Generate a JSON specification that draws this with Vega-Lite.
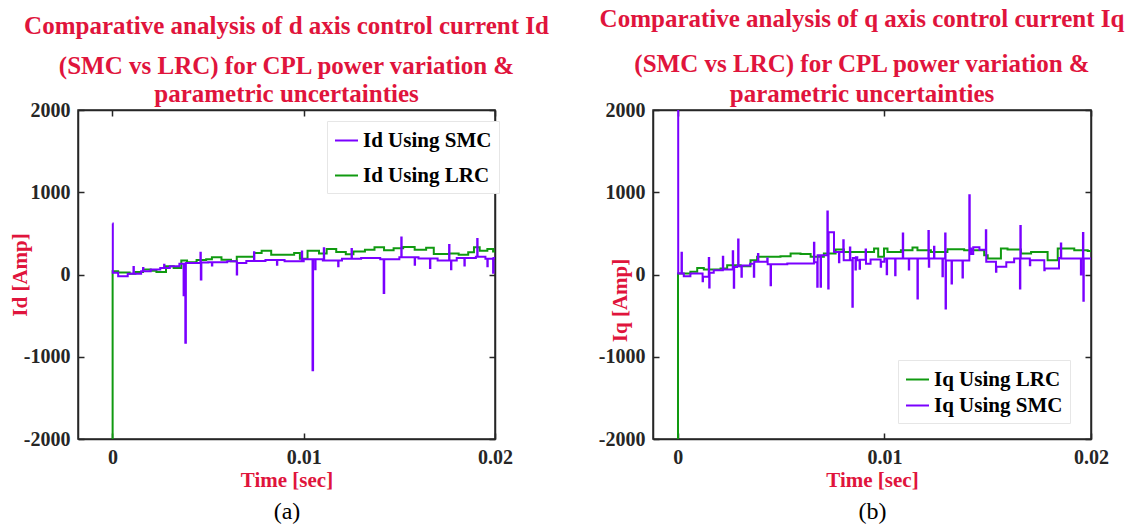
{
  "$schema": "https://vega.github.io/schema/vega-lite/v6.json",
  "background": "white",
  "padding": {"left": 8, "top": 6, "right": 5, "bottom": 4},
  "datasets": {
    "id": [
      {"t": 0, "v": -2000, "s": "Id Using LRC"},
      {"t": 0.00001, "v": 40, "s": "Id Using LRC"},
      {"t": 0.0003, "v": 25, "s": "Id Using LRC"},
      {"t": 0.0009, "v": 10, "s": "Id Using LRC"},
      {"t": 0.0012, "v": 30, "s": "Id Using LRC"},
      {"t": 0.0016, "v": 60, "s": "Id Using LRC"},
      {"t": 0.002, "v": 45, "s": "Id Using LRC"},
      {"t": 0.0023, "v": 30, "s": "Id Using LRC"},
      {"t": 0.0028, "v": 100, "s": "Id Using LRC"},
      {"t": 0.0032, "v": 80, "s": "Id Using LRC"},
      {"t": 0.0036, "v": 170, "s": "Id Using LRC"},
      {"t": 0.0039, "v": 150, "s": "Id Using LRC"},
      {"t": 0.0044, "v": 175, "s": "Id Using LRC"},
      {"t": 0.0049, "v": 185, "s": "Id Using LRC"},
      {"t": 0.0052, "v": 210, "s": "Id Using LRC"},
      {"t": 0.0057, "v": 180, "s": "Id Using LRC"},
      {"t": 0.0062, "v": 160, "s": "Id Using LRC"},
      {"t": 0.0065, "v": 215, "s": "Id Using LRC"},
      {"t": 0.0074, "v": 260, "s": "Id Using LRC"},
      {"t": 0.0078, "v": 290, "s": "Id Using LRC"},
      {"t": 0.0083, "v": 240, "s": "Id Using LRC"},
      {"t": 0.0095, "v": 260, "s": "Id Using LRC"},
      {"t": 0.0098, "v": 190, "s": "Id Using LRC"},
      {"t": 0.0102, "v": 290, "s": "Id Using LRC"},
      {"t": 0.0108, "v": 255, "s": "Id Using LRC"},
      {"t": 0.0112, "v": 310, "s": "Id Using LRC"},
      {"t": 0.0117, "v": 275, "s": "Id Using LRC"},
      {"t": 0.0122, "v": 245, "s": "Id Using LRC"},
      {"t": 0.0126, "v": 280, "s": "Id Using LRC"},
      {"t": 0.0132, "v": 300, "s": "Id Using LRC"},
      {"t": 0.0137, "v": 330, "s": "Id Using LRC"},
      {"t": 0.0142, "v": 295, "s": "Id Using LRC"},
      {"t": 0.0147, "v": 320, "s": "Id Using LRC"},
      {"t": 0.0152, "v": 335, "s": "Id Using LRC"},
      {"t": 0.0158, "v": 300, "s": "Id Using LRC"},
      {"t": 0.0164, "v": 325, "s": "Id Using LRC"},
      {"t": 0.0168, "v": 250, "s": "Id Using LRC"},
      {"t": 0.0176, "v": 255, "s": "Id Using LRC"},
      {"t": 0.0181, "v": 240, "s": "Id Using LRC"},
      {"t": 0.0186, "v": 270, "s": "Id Using LRC"},
      {"t": 0.0189, "v": 330, "s": "Id Using LRC"},
      {"t": 0.0192, "v": 290, "s": "Id Using LRC"},
      {"t": 0.0196, "v": 310, "s": "Id Using LRC"},
      {"t": 0.0199, "v": 280, "s": "Id Using LRC"},
      {"t": 0.02, "v": 280, "s": "Id Using LRC"},
      {"t": 0, "v": 620, "s": "Id Using SMC"},
      {"t": 0.00002, "v": 20, "s": "Id Using SMC"},
      {"t": 0.0003, "v": -20, "s": "Id Using SMC"},
      {"t": 0.0008, "v": 10, "s": "Id Using SMC"},
      {"t": 0.0011, "v": 90, "s": "Id Using SMC"},
      {"t": 0.00112, "v": 10, "s": "Id Using SMC"},
      {"t": 0.0015, "v": 40, "s": "Id Using SMC"},
      {"t": 0.0016, "v": 80, "s": "Id Using SMC"},
      {"t": 0.00162, "v": 40, "s": "Id Using SMC"},
      {"t": 0.002, "v": 60, "s": "Id Using SMC"},
      {"t": 0.0025, "v": 80, "s": "Id Using SMC"},
      {"t": 0.0027, "v": 120, "s": "Id Using SMC"},
      {"t": 0.00272, "v": 80, "s": "Id Using SMC"},
      {"t": 0.003, "v": 100, "s": "Id Using SMC"},
      {"t": 0.0035, "v": 130, "s": "Id Using SMC"},
      {"t": 0.00372, "v": -253, "s": "Id Using SMC"},
      {"t": 0.00375, "v": 130, "s": "Id Using SMC"},
      {"t": 0.00381, "v": -829, "s": "Id Using SMC"},
      {"t": 0.00384, "v": 140, "s": "Id Using SMC"},
      {"t": 0.0046, "v": 264, "s": "Id Using SMC"},
      {"t": 0.00462, "v": -60, "s": "Id Using SMC"},
      {"t": 0.00465, "v": 145, "s": "Id Using SMC"},
      {"t": 0.005, "v": 150, "s": "Id Using SMC"},
      {"t": 0.0052, "v": 110, "s": "Id Using SMC"},
      {"t": 0.00522, "v": 150, "s": "Id Using SMC"},
      {"t": 0.006, "v": 160, "s": "Id Using SMC"},
      {"t": 0.0065, "v": 0, "s": "Id Using SMC"},
      {"t": 0.00652, "v": 140, "s": "Id Using SMC"},
      {"t": 0.007, "v": 165, "s": "Id Using SMC"},
      {"t": 0.0074, "v": 270, "s": "Id Using SMC"},
      {"t": 0.00742, "v": 165, "s": "Id Using SMC"},
      {"t": 0.008, "v": 175, "s": "Id Using SMC"},
      {"t": 0.0086, "v": 120, "s": "Id Using SMC"},
      {"t": 0.00862, "v": 175, "s": "Id Using SMC"},
      {"t": 0.009, "v": 160, "s": "Id Using SMC"},
      {"t": 0.0099, "v": 280, "s": "Id Using SMC"},
      {"t": 0.00992, "v": 160, "s": "Id Using SMC"},
      {"t": 0.01, "v": 185, "s": "Id Using SMC"},
      {"t": 0.01046, "v": -1163, "s": "Id Using SMC"},
      {"t": 0.01049, "v": 185, "s": "Id Using SMC"},
      {"t": 0.0106, "v": 65, "s": "Id Using SMC"},
      {"t": 0.01062, "v": 185, "s": "Id Using SMC"},
      {"t": 0.011, "v": 170, "s": "Id Using SMC"},
      {"t": 0.01105, "v": 320, "s": "Id Using SMC"},
      {"t": 0.01107, "v": 170, "s": "Id Using SMC"},
      {"t": 0.0118, "v": 100, "s": "Id Using SMC"},
      {"t": 0.01182, "v": 170, "s": "Id Using SMC"},
      {"t": 0.012, "v": 190, "s": "Id Using SMC"},
      {"t": 0.0125, "v": 310, "s": "Id Using SMC"},
      {"t": 0.01252, "v": 190, "s": "Id Using SMC"},
      {"t": 0.013, "v": 200, "s": "Id Using SMC"},
      {"t": 0.014, "v": 185, "s": "Id Using SMC"},
      {"t": 0.01418, "v": -225, "s": "Id Using SMC"},
      {"t": 0.01421, "v": 185, "s": "Id Using SMC"},
      {"t": 0.015, "v": 210, "s": "Id Using SMC"},
      {"t": 0.0151, "v": 450, "s": "Id Using SMC"},
      {"t": 0.01512, "v": 210, "s": "Id Using SMC"},
      {"t": 0.0158, "v": 120, "s": "Id Using SMC"},
      {"t": 0.01582, "v": 210, "s": "Id Using SMC"},
      {"t": 0.016, "v": 195, "s": "Id Using SMC"},
      {"t": 0.0166, "v": 80, "s": "Id Using SMC"},
      {"t": 0.01662, "v": 195, "s": "Id Using SMC"},
      {"t": 0.017, "v": 170, "s": "Id Using SMC"},
      {"t": 0.0176, "v": 360, "s": "Id Using SMC"},
      {"t": 0.01762, "v": 170, "s": "Id Using SMC"},
      {"t": 0.0177, "v": 65, "s": "Id Using SMC"},
      {"t": 0.01772, "v": 170, "s": "Id Using SMC"},
      {"t": 0.018, "v": 200, "s": "Id Using SMC"},
      {"t": 0.0184, "v": 110, "s": "Id Using SMC"},
      {"t": 0.01842, "v": 200, "s": "Id Using SMC"},
      {"t": 0.019, "v": 215, "s": "Id Using SMC"},
      {"t": 0.01907, "v": 432, "s": "Id Using SMC"},
      {"t": 0.01909, "v": 215, "s": "Id Using SMC"},
      {"t": 0.0195, "v": 190, "s": "Id Using SMC"},
      {"t": 0.0196, "v": 100, "s": "Id Using SMC"},
      {"t": 0.01962, "v": 190, "s": "Id Using SMC"},
      {"t": 0.0199, "v": 20, "s": "Id Using SMC"},
      {"t": 0.01992, "v": 200, "s": "Id Using SMC"},
      {"t": 0.02, "v": 200, "s": "Id Using SMC"}
    ],
    "iq": [
      {"t": 0, "v": -2000, "s": "Iq Using LRC"},
      {"t": 0.00001, "v": 12, "s": "Iq Using LRC"},
      {"t": 0.00061, "v": 32, "s": "Iq Using LRC"},
      {"t": 0.00094, "v": 80, "s": "Iq Using LRC"},
      {"t": 0.00126, "v": 60, "s": "Iq Using LRC"},
      {"t": 0.00207, "v": 72, "s": "Iq Using LRC"},
      {"t": 0.00239, "v": 113, "s": "Iq Using LRC"},
      {"t": 0.00304, "v": 100, "s": "Iq Using LRC"},
      {"t": 0.00352, "v": 174, "s": "Iq Using LRC"},
      {"t": 0.00384, "v": 215, "s": "Iq Using LRC"},
      {"t": 0.00497, "v": 223, "s": "Iq Using LRC"},
      {"t": 0.00546, "v": 255, "s": "Iq Using LRC"},
      {"t": 0.00594, "v": 250, "s": "Iq Using LRC"},
      {"t": 0.00643, "v": 215, "s": "Iq Using LRC"},
      {"t": 0.00707, "v": 255, "s": "Iq Using LRC"},
      {"t": 0.00764, "v": 304, "s": "Iq Using LRC"},
      {"t": 0.00804, "v": 275, "s": "Iq Using LRC"},
      {"t": 0.0095, "v": 316, "s": "Iq Using LRC"},
      {"t": 0.0097, "v": 215, "s": "Iq Using LRC"},
      {"t": 0.00998, "v": 316, "s": "Iq Using LRC"},
      {"t": 0.01015, "v": 275, "s": "Iq Using LRC"},
      {"t": 0.0108, "v": 296, "s": "Iq Using LRC"},
      {"t": 0.01136, "v": 328, "s": "Iq Using LRC"},
      {"t": 0.0116, "v": 296, "s": "Iq Using LRC"},
      {"t": 0.01225, "v": 275, "s": "Iq Using LRC"},
      {"t": 0.01305, "v": 308, "s": "Iq Using LRC"},
      {"t": 0.01386, "v": 296, "s": "Iq Using LRC"},
      {"t": 0.01483, "v": 235, "s": "Iq Using LRC"},
      {"t": 0.015, "v": 194, "s": "Iq Using LRC"},
      {"t": 0.01564, "v": 316, "s": "Iq Using LRC"},
      {"t": 0.01596, "v": 304, "s": "Iq Using LRC"},
      {"t": 0.01661, "v": 255, "s": "Iq Using LRC"},
      {"t": 0.0171, "v": 275, "s": "Iq Using LRC"},
      {"t": 0.0179, "v": 174, "s": "Iq Using LRC"},
      {"t": 0.01839, "v": 316, "s": "Iq Using LRC"},
      {"t": 0.01919, "v": 296, "s": "Iq Using LRC"},
      {"t": 0.01984, "v": 285, "s": "Iq Using LRC"},
      {"t": 0.02, "v": 285, "s": "Iq Using LRC"},
      {"t": 0, "v": 2000, "s": "Iq Using SMC"},
      {"t": 0.00002, "v": 12, "s": "Iq Using SMC"},
      {"t": 0.00018, "v": 263, "s": "Iq Using SMC"},
      {"t": 0.0002, "v": 12, "s": "Iq Using SMC"},
      {"t": 0.00029, "v": -20, "s": "Iq Using SMC"},
      {"t": 0.00061, "v": 12, "s": "Iq Using SMC"},
      {"t": 0.0012, "v": -81, "s": "Iq Using SMC"},
      {"t": 0.00122, "v": -28, "s": "Iq Using SMC"},
      {"t": 0.0015, "v": 202, "s": "Iq Using SMC"},
      {"t": 0.00152, "v": -158, "s": "Iq Using SMC"},
      {"t": 0.00154, "v": 20, "s": "Iq Using SMC"},
      {"t": 0.00174, "v": 53, "s": "Iq Using SMC"},
      {"t": 0.00218, "v": 215, "s": "Iq Using SMC"},
      {"t": 0.0022, "v": 60, "s": "Iq Using SMC"},
      {"t": 0.00266, "v": 283, "s": "Iq Using SMC"},
      {"t": 0.00268, "v": 80, "s": "Iq Using SMC"},
      {"t": 0.00271, "v": -162, "s": "Iq Using SMC"},
      {"t": 0.00273, "v": 90, "s": "Iq Using SMC"},
      {"t": 0.00287, "v": 100, "s": "Iq Using SMC"},
      {"t": 0.00292, "v": 425, "s": "Iq Using SMC"},
      {"t": 0.00294, "v": 100, "s": "Iq Using SMC"},
      {"t": 0.00308, "v": -28, "s": "Iq Using SMC"},
      {"t": 0.0031, "v": 110, "s": "Iq Using SMC"},
      {"t": 0.0035, "v": 130, "s": "Iq Using SMC"},
      {"t": 0.00368, "v": -28, "s": "Iq Using SMC"},
      {"t": 0.0037, "v": 154, "s": "Iq Using SMC"},
      {"t": 0.00388, "v": 250, "s": "Iq Using SMC"},
      {"t": 0.0039, "v": 154, "s": "Iq Using SMC"},
      {"t": 0.00433, "v": 194, "s": "Iq Using SMC"},
      {"t": 0.00435, "v": 125, "s": "Iq Using SMC"},
      {"t": 0.00449, "v": -130, "s": "Iq Using SMC"},
      {"t": 0.00451, "v": 125, "s": "Iq Using SMC"},
      {"t": 0.0053, "v": 134, "s": "Iq Using SMC"},
      {"t": 0.0061, "v": 134, "s": "Iq Using SMC"},
      {"t": 0.00659, "v": 385, "s": "Iq Using SMC"},
      {"t": 0.00661, "v": 150, "s": "Iq Using SMC"},
      {"t": 0.00675, "v": -150, "s": "Iq Using SMC"},
      {"t": 0.00677, "v": 235, "s": "Iq Using SMC"},
      {"t": 0.00691, "v": -150, "s": "Iq Using SMC"},
      {"t": 0.00693, "v": 235, "s": "Iq Using SMC"},
      {"t": 0.00724, "v": 765, "s": "Iq Using SMC"},
      {"t": 0.00726, "v": 235, "s": "Iq Using SMC"},
      {"t": 0.00728, "v": -170, "s": "Iq Using SMC"},
      {"t": 0.0073, "v": 514, "s": "Iq Using SMC"},
      {"t": 0.00756, "v": 275, "s": "Iq Using SMC"},
      {"t": 0.0078, "v": 150, "s": "Iq Using SMC"},
      {"t": 0.00782, "v": 275, "s": "Iq Using SMC"},
      {"t": 0.00801, "v": 417, "s": "Iq Using SMC"},
      {"t": 0.00803, "v": 174, "s": "Iq Using SMC"},
      {"t": 0.00833, "v": 328, "s": "Iq Using SMC"},
      {"t": 0.00835, "v": 174, "s": "Iq Using SMC"},
      {"t": 0.00845, "v": -393, "s": "Iq Using SMC"},
      {"t": 0.00847, "v": 200, "s": "Iq Using SMC"},
      {"t": 0.0086, "v": 60, "s": "Iq Using SMC"},
      {"t": 0.00862, "v": 210, "s": "Iq Using SMC"},
      {"t": 0.00869, "v": 174, "s": "Iq Using SMC"},
      {"t": 0.0088, "v": 70, "s": "Iq Using SMC"},
      {"t": 0.00882, "v": 180, "s": "Iq Using SMC"},
      {"t": 0.00909, "v": 304, "s": "Iq Using SMC"},
      {"t": 0.00911, "v": 130, "s": "Iq Using SMC"},
      {"t": 0.00933, "v": 183, "s": "Iq Using SMC"},
      {"t": 0.00982, "v": 93, "s": "Iq Using SMC"},
      {"t": 0.00984, "v": 154, "s": "Iq Using SMC"},
      {"t": 0.01, "v": 194, "s": "Iq Using SMC"},
      {"t": 0.01011, "v": 4, "s": "Iq Using SMC"},
      {"t": 0.01013, "v": 194, "s": "Iq Using SMC"},
      {"t": 0.01052, "v": -8, "s": "Iq Using SMC"},
      {"t": 0.01054, "v": 194, "s": "Iq Using SMC"},
      {"t": 0.01089, "v": 498, "s": "Iq Using SMC"},
      {"t": 0.01091, "v": 194, "s": "Iq Using SMC"},
      {"t": 0.01118, "v": 61, "s": "Iq Using SMC"},
      {"t": 0.0112, "v": 194, "s": "Iq Using SMC"},
      {"t": 0.0116, "v": -292, "s": "Iq Using SMC"},
      {"t": 0.01162, "v": 194, "s": "Iq Using SMC"},
      {"t": 0.01213, "v": 530, "s": "Iq Using SMC"},
      {"t": 0.01215, "v": 93, "s": "Iq Using SMC"},
      {"t": 0.01217, "v": 194, "s": "Iq Using SMC"},
      {"t": 0.0124, "v": 336, "s": "Iq Using SMC"},
      {"t": 0.01242, "v": 194, "s": "Iq Using SMC"},
      {"t": 0.01281, "v": -20, "s": "Iq Using SMC"},
      {"t": 0.01283, "v": 194, "s": "Iq Using SMC"},
      {"t": 0.01294, "v": 498, "s": "Iq Using SMC"},
      {"t": 0.01296, "v": -413, "s": "Iq Using SMC"},
      {"t": 0.01298, "v": 170, "s": "Iq Using SMC"},
      {"t": 0.01325, "v": -109, "s": "Iq Using SMC"},
      {"t": 0.01327, "v": 170, "s": "Iq Using SMC"},
      {"t": 0.01378, "v": -36, "s": "Iq Using SMC"},
      {"t": 0.0138, "v": 170, "s": "Iq Using SMC"},
      {"t": 0.01411, "v": 964, "s": "Iq Using SMC"},
      {"t": 0.01413, "v": 316, "s": "Iq Using SMC"},
      {"t": 0.0142, "v": 250, "s": "Iq Using SMC"},
      {"t": 0.0143, "v": 330, "s": "Iq Using SMC"},
      {"t": 0.0146, "v": 300, "s": "Iq Using SMC"},
      {"t": 0.01491, "v": 539, "s": "Iq Using SMC"},
      {"t": 0.01493, "v": 154, "s": "Iq Using SMC"},
      {"t": 0.0154, "v": 32, "s": "Iq Using SMC"},
      {"t": 0.01542, "v": 93, "s": "Iq Using SMC"},
      {"t": 0.0159, "v": 150, "s": "Iq Using SMC"},
      {"t": 0.01628, "v": 194, "s": "Iq Using SMC"},
      {"t": 0.01656, "v": -170, "s": "Iq Using SMC"},
      {"t": 0.01658, "v": 591, "s": "Iq Using SMC"},
      {"t": 0.0166, "v": 194, "s": "Iq Using SMC"},
      {"t": 0.01704, "v": 113, "s": "Iq Using SMC"},
      {"t": 0.01706, "v": 174, "s": "Iq Using SMC"},
      {"t": 0.01774, "v": 53, "s": "Iq Using SMC"},
      {"t": 0.01776, "v": 73, "s": "Iq Using SMC"},
      {"t": 0.01845, "v": 200, "s": "Iq Using SMC"},
      {"t": 0.01854, "v": 377, "s": "Iq Using SMC"},
      {"t": 0.01856, "v": 194, "s": "Iq Using SMC"},
      {"t": 0.01951, "v": 0, "s": "Iq Using SMC"},
      {"t": 0.01953, "v": 194, "s": "Iq Using SMC"},
      {"t": 0.01961, "v": 506, "s": "Iq Using SMC"},
      {"t": 0.01963, "v": -320, "s": "Iq Using SMC"},
      {"t": 0.01965, "v": 194, "s": "Iq Using SMC"},
      {"t": 0.02, "v": 194, "s": "Iq Using SMC"}
    ]
  },
  "hconcat": [
    {
      "width": 417,
      "height": 329,
      "data": {"name": "id"},
      "title": {
        "text": "Comparative analysis of d axis control current Id",
        "subtitle": ["(SMC vs LRC)  for CPL power variation &", "parametric uncertainties"],
        "subtitlePadding": 15,
        "subtitleLineHeight": 28,
        "offset": -7
      },
      "layer": [
        {
          "mark": {"type": "line", "interpolate": "step-after", "strokeWidth": 2, "clip": true},
          "encoding": {
            "x": {"field": "t", "type": "quantitative", "scale": {"domain": [-0.0018, 0.02], "nice": false, "zero": false},
                  "axis": {"orient": "bottom", "values": [0, 0.01, 0.02], "format": ".2~f", "title": "Time [sec]", "labelFlush": false, "titlePadding": 2}},
            "y": {"field": "v", "type": "quantitative", "scale": {"domain": [-2000, 2000], "nice": false},
                  "axis": {"orient": "left", "values": [-2000, -1000, 0, 1000, 2000], "labelExpr": "datum.value < 0 ? '-' + abs(datum.value) : '' + datum.value", "title": "Id [Amp]", "titleX": -48}},
            "color": {"field": "s", "type": "nominal",
                      "scale": {"domain": ["Id Using SMC", "Id Using LRC"], "range": ["#7a00ff", "#109a10"]},
                      "legend": {"orient": "none", "legendX": 249, "legendY": 11, "rowPadding": 12}}
          }
        },
        {
          "mark": {"type": "point", "opacity": 0},
          "encoding": {
            "x": {"field": "t", "type": "quantitative", "axis": {"orient": "top", "values": [0, 0.01, 0.02], "labels": false, "title": null}},
            "y": {"field": "v", "type": "quantitative", "axis": {"orient": "right", "values": [-2000, -1000, 0, 1000, 2000], "labels": false, "title": null}}
          }
        },
        {
          "mark": {"type": "point", "opacity": 0},
          "encoding": {
            "x": {"field": "t", "type": "quantitative", "axis": {"orient": "bottom", "labels": false, "ticks": false, "domain": false, "title": "(a)", "titlePadding": 60, "titleColor": "#000000", "titleFontWeight": "normal", "titleFontSize": 24}},
            "y": {"field": "v", "type": "quantitative", "axis": null}
          }
        }
      ],
      "resolve": {"axis": {"x": "independent", "y": "independent"}}
    },
    {
      "width": 438,
      "height": 329,
      "data": {"name": "iq"},
      "title": {
        "text": "Comparative analysis of q axis control current Iq",
        "subtitle": ["(SMC vs LRC) for CPL power variation &", "parametric uncertainties"],
        "subtitlePadding": 20,
        "subtitleLineHeight": 30,
        "offset": -7,
        "dx": -10
      },
      "layer": [
        {
          "mark": {"type": "line", "interpolate": "step-after", "strokeWidth": 2, "clip": true},
          "encoding": {
            "x": {"field": "t", "type": "quantitative", "scale": {"domain": [-0.0012, 0.02], "nice": false, "zero": false},
                  "axis": {"orient": "bottom", "values": [0, 0.01, 0.02], "format": ".2~f", "title": "Time [sec]", "labelFlush": false, "titlePadding": 2}},
            "y": {"field": "v", "type": "quantitative", "scale": {"domain": [-2000, 2000], "nice": false},
                  "axis": {"orient": "left", "values": [-2000, -1000, 0, 1000, 2000], "labelExpr": "datum.value < 0 ? '-' + abs(datum.value) : '' + datum.value", "title": "Iq [Amp]", "titleX": -23, "titleY": 190}},
            "color": {"field": "s", "type": "nominal",
                      "scale": {"domain": ["Iq Using LRC", "Iq Using SMC"], "range": ["#109a10", "#7a00ff"]},
                      "legend": {"orient": "none", "legendX": 245, "legendY": 250, "rowPadding": 3}}
          }
        },
        {
          "mark": {"type": "point", "opacity": 0},
          "encoding": {
            "x": {"field": "t", "type": "quantitative", "axis": {"orient": "top", "values": [0, 0.01, 0.02], "labels": false, "title": null}},
            "y": {"field": "v", "type": "quantitative", "axis": {"orient": "right", "values": [-2000, -1000, 0, 1000, 2000], "labels": false, "title": null}}
          }
        },
        {
          "mark": {"type": "point", "opacity": 0},
          "encoding": {
            "x": {"field": "t", "type": "quantitative", "axis": {"orient": "bottom", "labels": false, "ticks": false, "domain": false, "title": "(b)", "titlePadding": 60, "titleColor": "#000000", "titleFontWeight": "normal", "titleFontSize": 24}},
            "y": {"field": "v", "type": "quantitative", "axis": null}
          }
        }
      ],
      "resolve": {"axis": {"x": "independent", "y": "independent"}}
    }
  ],
  "spacing": 158,
  "bounds": "flush",
  "resolve": {"scale": {"color": "independent"}},
  "config": {
    "font": "Liberation Serif",
    "view": {"stroke": "#262626", "strokeWidth": 1.5},
    "axis": {
      "labelFont": "Liberation Serif", "labelFontSize": 20, "labelFontWeight": "bold", "labelColor": "#262626",
      "titleFont": "Liberation Serif", "titleFontSize": 21, "titleFontWeight": "bold", "titleColor": "#e0143c",
      "domainColor": "#262626", "domainWidth": 1.5, "tickColor": "#262626", "tickWidth": 1.5,
      "tickSize": -6, "labelPadding": 14, "grid": false
    },
    "title": {
      "font": "Liberation Serif", "fontSize": 25, "fontWeight": "bold", "color": "#e0143c",
      "subtitleFont": "Liberation Serif", "subtitleFontSize": 25, "subtitleFontWeight": "bold", "subtitleColor": "#e0143c",
      "anchor": "middle", "frame": "group"
    },
    "legend": {
      "labelFont": "Liberation Serif", "labelFontSize": 21, "labelFontWeight": "bold", "labelColor": "#000000",
      "symbolType": "stroke", "symbolSize": 529, "symbolStrokeWidth": 2, "title": null,
      "strokeColor": "#e6e6e6", "fillColor": "#ffffff", "padding": 7, "labelOffset": 4
    }
  }
}
